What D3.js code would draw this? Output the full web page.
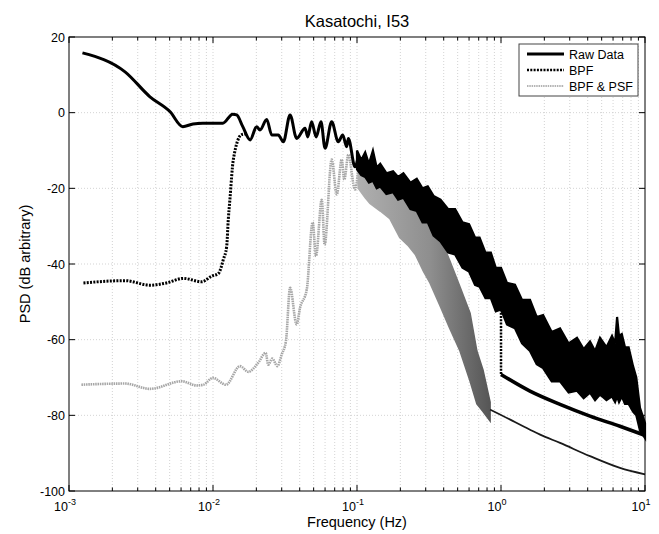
<!DOCTYPE html>
<meta charset="utf-8">
<script src="https://d3js.org/d3.v7.min.js"></script>
<style>
body { margin: 0; background: #fff; }
svg text { font-family: "Liberation Sans", Arial, sans-serif; fill: #000; }
</style>
<div id="chart"></div>
<script>

// Raw Data, smooth low-frequency part (Hz, dB)
var rawF  = [0.00124, 0.00245, 0.00365, 0.00502, 0.00617, 0.00726, 0.0085, 0.0117, 0.0137, 0.0146, 0.0161, 0.0181, 0.0201, 0.0212, 0.0236, 0.0256, 0.0284, 0.0308, 0.0343, 0.0381, 0.0436, 0.0455, 0.0484, 0.052, 0.0562, 0.060, 0.0667, 0.0741, 0.0796, 0.0848, 0.0871, 0.0968, 0.102];
var rawDb = [15.8, 10.8, 4.2, 0.3, -3.7, -3.0, -2.8, -2.8, -0.4, -0.6, -3.7, -7.2, -3.7, -4.6, -1.8, -5.9, -5.9, -7.7, -0.6, -6.8, -4.1, -6.4, -2.4, -6.4, -2.4, -9.4, -2.4, -7.7, -5.9, -9.0, -6.8, -14.3, -11.6];

// Raw Data, noisy part: upper / lower envelope
var rawBandF  = [0.1, 0.107, 0.114, 0.121, 0.129, 0.137, 0.145, 0.16, 0.178, 0.193, 0.21, 0.235, 0.26, 0.285, 0.31, 0.34, 0.38, 0.43, 0.48, 0.54, 0.6, 0.66, 0.71, 0.78, 0.85, 0.92, 1.0, 1.1, 1.25, 1.4, 1.59, 1.77, 1.96, 2.25, 2.57, 2.95, 3.37, 3.75, 4.15, 4.5, 4.87, 5.4, 5.9, 6.2, 6.4, 6.6, 6.9, 7.26, 7.7, 8.26, 8.7, 9.23, 9.6, 10];
var rawBandHi = [-10, -12.5, -10.5, -13.5, -10, -14.5, -13.5, -16, -15.5, -17, -16, -18.5, -17.5, -20, -19.5, -22, -23, -25.5, -25.5, -29, -29.5, -33, -33, -37, -37, -41, -41, -45, -45.5, -49.5, -49.5, -54, -53.5, -58, -57, -61, -59.5, -62.5, -60.5, -63, -59.5, -62, -59, -61, -54, -59, -58.5, -62, -62, -67, -70, -78, -80, -82];
var rawBandLo = [-15, -16.5, -17, -18.5, -18, -20, -19.5, -21.5, -21, -23, -22.5, -25.5, -26, -29, -29, -32.5, -34, -37, -37.5, -41, -42, -45.5, -46, -49, -49, -52.5, -52, -56, -57, -61, -63, -66.5, -67.5, -71, -71, -74, -73.5, -75.5, -74, -76, -74.5, -76, -75, -76.5, -75, -76.5, -75, -77, -77, -79, -80, -84, -85, -86];

// BPF
var bpfF  = [0.00126, 0.00245, 0.00365, 0.00476, 0.00622, 0.00834, 0.0098, 0.0109, 0.0118, 0.01245, 0.01277, 0.0131, 0.01384, 0.0158, 0.0172];
var bpfDb = [-45.0, -44.4, -45.6, -45.0, -43.8, -44.7, -43.2, -42.5, -38.8, -35.3, -28.2, -23, -12.4, -5.8, -5.6];
var bpfDropF  = [1.0, 1.0];
var bpfDropDb = [-52, -69.2];
var bpfTailF  = [1.0, 1.59, 2.57, 4.15, 6.7, 10];
var bpfTailDb = [-69.2, -73.6, -77.1, -80.2, -82.9, -85.3];

// BPF & PSF
var psfF  = [0.00122, 0.00245, 0.00365, 0.00607, 0.0077, 0.0086, 0.00995, 0.0123, 0.0154, 0.0176, 0.0206, 0.0232, 0.0242, 0.0258, 0.028, 0.030, 0.0321, 0.0343, 0.0381, 0.0402, 0.0448, 0.0492, 0.0519, 0.0569, 0.0596, 0.0667, 0.0724, 0.0783, 0.0816, 0.0871, 0.0968, 0.102];
var psfDb = [-71.9, -71.6, -73.0, -71.0, -72.1, -71.9, -70.1, -71.9, -67.0, -68.5, -66.1, -63.5, -66.6, -65.0, -67.0, -63.9, -60.4, -46.3, -56.0, -51.6, -46.7, -29.0, -37.9, -23.0, -34.9, -12.4, -21.6, -12.4, -17.7, -11.1, -20.3, -15.0];
var psfBandF  = [0.102, 0.114, 0.123, 0.145, 0.169, 0.198, 0.225, 0.254, 0.29, 0.321, 0.377, 0.44, 0.519, 0.61, 0.68, 0.75, 0.84];
var psfBandHi = [-13, -14.5, -15.5, -17, -18.5, -21, -22.5, -24, -26, -28, -33, -39, -46, -53, -63, -68, -76.5];
var psfBandLo = [-20, -22.5, -24, -26, -28, -33, -35, -37.5, -42, -45, -51, -57, -63, -71, -77, -79, -81.5];
var psfTailF  = [0.84, 1.0, 1.59, 1.87, 2.57, 4.15, 6.7, 10];
var psfTailDb = [-78.5, -79.9, -83.8, -85.1, -87.3, -90.8, -93.9, -95.6];

var yTicks = [-100, -80, -60, -40, -20, 0, 20];
var xExps = [-3, -2, -1, 0, 1];
var legendLabels = ["Raw Data", "BPF", "BPF & PSF"];

var width = 659, height = 534;
var pL = 69, pR = 645, pT = 37, pB = 491;

var svg = d3.select("#chart").append("svg")
  .attr("width", width)
  .attr("height", height);

var x = d3.scaleLog().domain([1e-3, 10]).range([pL, pR]);
var y = d3.scaleLinear().domain([-100, 20]).range([pB, pT]);

// gradient for the gray band (darker toward high frequency)
var grad = svg.append("defs").append("linearGradient")
  .attr("id", "psfGrad").attr("gradientUnits", "userSpaceOnUse")
  .attr("x1", x(0.1)).attr("x2", x(0.85)).attr("y1", 0).attr("y2", 0);
grad.append("stop").attr("offset", 0).attr("stop-color", "#b0b0b0");
grad.append("stop").attr("offset", 0.55).attr("stop-color", "#8e8e8e");
grad.append("stop").attr("offset", 1).attr("stop-color", "#555");

// minor frequencies for grid
var minor = [];
xExps.slice(0, 4).forEach(function(e) {
  for (var k = 1; k <= 9; k++) minor.push(k * Math.pow(10, e));
});
minor.push(10);

// grid
svg.append("g").selectAll("line").data(minor.filter(function(f) { return f > 1.001e-3 && f < 9.99; }))
  .enter().append("line")
    .attr("x1", function(d) { return x(d); }).attr("x2", function(d) { return x(d); })
    .attr("y1", pT).attr("y2", pB)
    .attr("stroke", "#c8c8c8").attr("stroke-width", 0.8).attr("stroke-dasharray", "1,2");
svg.append("g").selectAll("line").data(yTicks.filter(function(v) { return v > -100 && v < 20; }))
  .enter().append("line")
    .attr("x1", pL).attr("x2", pR)
    .attr("y1", function(d) { return y(d); }).attr("y2", function(d) { return y(d); })
    .attr("stroke", "#c8c8c8").attr("stroke-width", 0.8).attr("stroke-dasharray", "1,2");

function pts(fs, ds) { return fs.map(function(f, i) { return [f, ds[i]]; }); }
function band(fs, hi, lo) { return fs.map(function(f, i) { return [f, hi[i], lo[i]]; }); }

var line = d3.line().x(function(d) { return x(d[0]); }).y(function(d) { return y(d[1]); });
var smooth = d3.line().curve(d3.curveMonotoneX)
  .x(function(d) { return x(d[0]); }).y(function(d) { return y(d[1]); });
var area = d3.area()
  .x(function(d) { return x(d[0]); })
  .y0(function(d) { return y(d[2]); })
  .y1(function(d) { return y(d[1]); });

var plot = svg.append("g");

// BPF & PSF
plot.append("path").datum(pts(psfF, psfDb))
  .attr("d", smooth).attr("fill", "none")
  .attr("stroke", "#a6a6a6").attr("stroke-width", 2.6).attr("stroke-dasharray", "1.5,0.8");
plot.append("path").datum(band(psfBandF, psfBandHi, psfBandLo))
  .attr("d", area).attr("fill", "url(#psfGrad)")
  .attr("stroke", "url(#psfGrad)").attr("stroke-width", 1.5);
plot.append("path").datum(pts(psfTailF, psfTailDb))
  .attr("d", smooth).attr("fill", "none")
  .attr("stroke", "#1a1a1a").attr("stroke-width", 1.8);

// BPF
plot.append("path").datum(pts(bpfF, bpfDb))
  .attr("d", smooth).attr("fill", "none")
  .attr("stroke", "#000").attr("stroke-width", 3).attr("stroke-dasharray", "2,1.3");
plot.append("path").datum(pts(bpfDropF, bpfDropDb))
  .attr("d", line).attr("fill", "none")
  .attr("stroke", "#000").attr("stroke-width", 2.5).attr("stroke-dasharray", "2,1.3");
plot.append("path").datum(pts(bpfTailF, bpfTailDb))
  .attr("d", smooth).attr("fill", "none")
  .attr("stroke", "#000").attr("stroke-width", 3.6);

// Raw data
plot.append("path").datum(pts(rawF, rawDb))
  .attr("d", smooth).attr("fill", "none")
  .attr("stroke", "#000").attr("stroke-width", 3).attr("stroke-linejoin", "round");
plot.append("path").datum(band(rawBandF, rawBandHi, rawBandLo))
  .attr("d", area).attr("fill", "#000")
  .attr("stroke", "#000").attr("stroke-width", 2.2);

// box
svg.append("rect")
  .attr("x", pL).attr("y", pT)
  .attr("width", pR - pL).attr("height", pB - pT)
  .attr("fill", "none").attr("stroke", "#000").attr("stroke-width", 1);

// ticks (inside, all four sides)
var ticks = svg.append("g").attr("stroke", "#000").attr("stroke-width", 1);
minor.forEach(function(f) {
  var lg10 = Math.log10(f);
  var len = Math.abs(lg10 - Math.round(lg10)) < 1e-9 ? 6 : 3.5;
  ticks.append("line").attr("x1", x(f)).attr("x2", x(f)).attr("y1", pB).attr("y2", pB - len);
  ticks.append("line").attr("x1", x(f)).attr("x2", x(f)).attr("y1", pT).attr("y2", pT + len);
});
yTicks.forEach(function(v) {
  ticks.append("line").attr("x1", pL).attr("x2", pL + 6).attr("y1", y(v)).attr("y2", y(v));
  ticks.append("line").attr("x1", pR).attr("x2", pR - 6).attr("y1", y(v)).attr("y2", y(v));
});

// tick labels
svg.append("g").selectAll("text").data(yTicks)
  .enter().append("text")
    .attr("x", pL - 4).attr("y", function(d) { return y(d) + 4.5; })
    .attr("text-anchor", "end").attr("font-size", 12.5)
    .text(function(d) { return d; });

var xl = svg.append("g").selectAll("text").data(xExps)
  .enter().append("text")
    .attr("x", function(d) { return x(Math.pow(10, d)) - 4; })
    .attr("y", 511)
    .attr("text-anchor", "middle").attr("font-size", 12.5);
xl.append("tspan").text("10");
xl.append("tspan").attr("dy", -6).attr("font-size", 9).text(function(d) { return d; });

// axis titles
svg.append("text")
  .attr("x", (pL + pR) / 2).attr("y", 527)
  .attr("text-anchor", "middle").attr("font-size", 14.5)
  .text("Frequency (Hz)");
svg.append("text")
  .attr("transform", "translate(30," + ((pT + pB) / 2) + ") rotate(-90)")
  .attr("text-anchor", "middle").attr("font-size", 14.5)
  .text("PSD (dB arbitrary)");
svg.append("text")
  .attr("x", (pL + pR) / 2).attr("y", 27)
  .attr("text-anchor", "middle").attr("font-size", 16.5)
  .text("Kasatochi, I53");

// legend
var lg = svg.append("g").attr("transform", "translate(519,44)");
lg.append("rect").attr("width", 119).attr("height", 52)
  .attr("fill", "#fff").attr("stroke", "#444").attr("stroke-width", 1);
var styles = [
  {stroke: "#000", w: 3, dash: null},
  {stroke: "#000", w: 2.5, dash: "2,1.3"},
  {stroke: "#b4b4b4", w: 2.2, dash: "1.5,0.8"}
];
legendLabels.forEach(function(t, i) {
  var yy = 10 + i * 16;
  lg.append("line").attr("x1", 8).attr("x2", 45).attr("y1", yy).attr("y2", yy)
    .attr("stroke", styles[i].stroke).attr("stroke-width", styles[i].w)
    .attr("stroke-dasharray", styles[i].dash);
  lg.append("text").attr("x", 50).attr("y", yy + 4.5).attr("font-size", 12.5).text(t);
});

</script>
